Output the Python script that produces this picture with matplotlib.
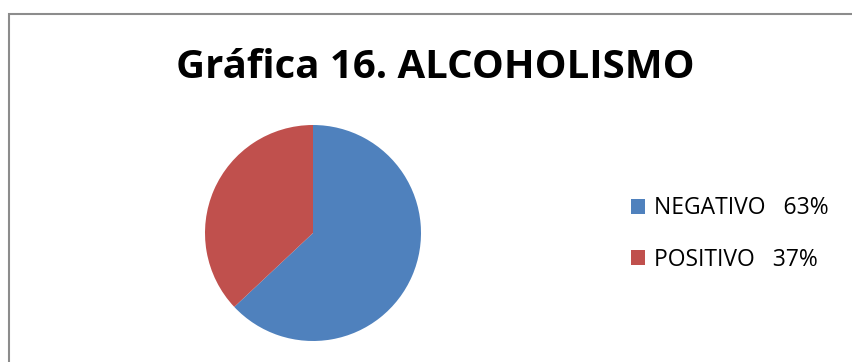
import matplotlib
matplotlib.use("Agg")
import matplotlib.pyplot as plt
from matplotlib.patches import Rectangle

# data
categories = ["NEGATIVO", "POSITIVO"]
percentages = [63, 37]
colors = ["#4F81BD", "#C0504D"]
title = "Gráfica 16. ALCOHOLISMO"

W, H = 853, 362
fig = plt.figure(figsize=(W / 100, H / 100), dpi=100)

# chart border (goes off the right and bottom edges)
fig.patches.append(Rectangle((8.5 / W, -0.1), 1.0, (H - 13.5) / H + 0.1,
                             transform=fig.transFigure, fill=False,
                             edgecolor="#8c8c8c", linewidth=1.5))

fig.text(435 / W, 1 - 68 / H, title, ha="center", va="center",
         fontsize=28.9, fontweight="bold", family="Open Sans")

# pie axes: centre (313, 233), radius 108 px
cx, cy, r = 313, 233, 108
ax = fig.add_axes([(cx - r) / W, 1 - (cy + r) / H, 2 * r / W, 2 * r / H])
wedges, _ = ax.pie(percentages, colors=colors, startangle=90, counterclock=False,
                   wedgeprops=dict(linewidth=0))
ax.set_aspect("equal")
ax.set_xlim(-1, 1)
ax.set_ylim(-1, 1)
ax.axis("off")

labels = [f"{c}   {p}%" for c, p in zip(categories, percentages)]
fig.legend(wedges, labels, loc="center left",
           bbox_to_anchor=(631 / W, 1 - 234 / H), frameon=False,
           prop=dict(family="Open Sans", size=16.5),
           borderpad=0, borderaxespad=0,
           handlelength=0.62, handleheight=0.62, handletextpad=0.4,
           labelspacing=1.2)

fig.savefig("out.png", dpi=100)
